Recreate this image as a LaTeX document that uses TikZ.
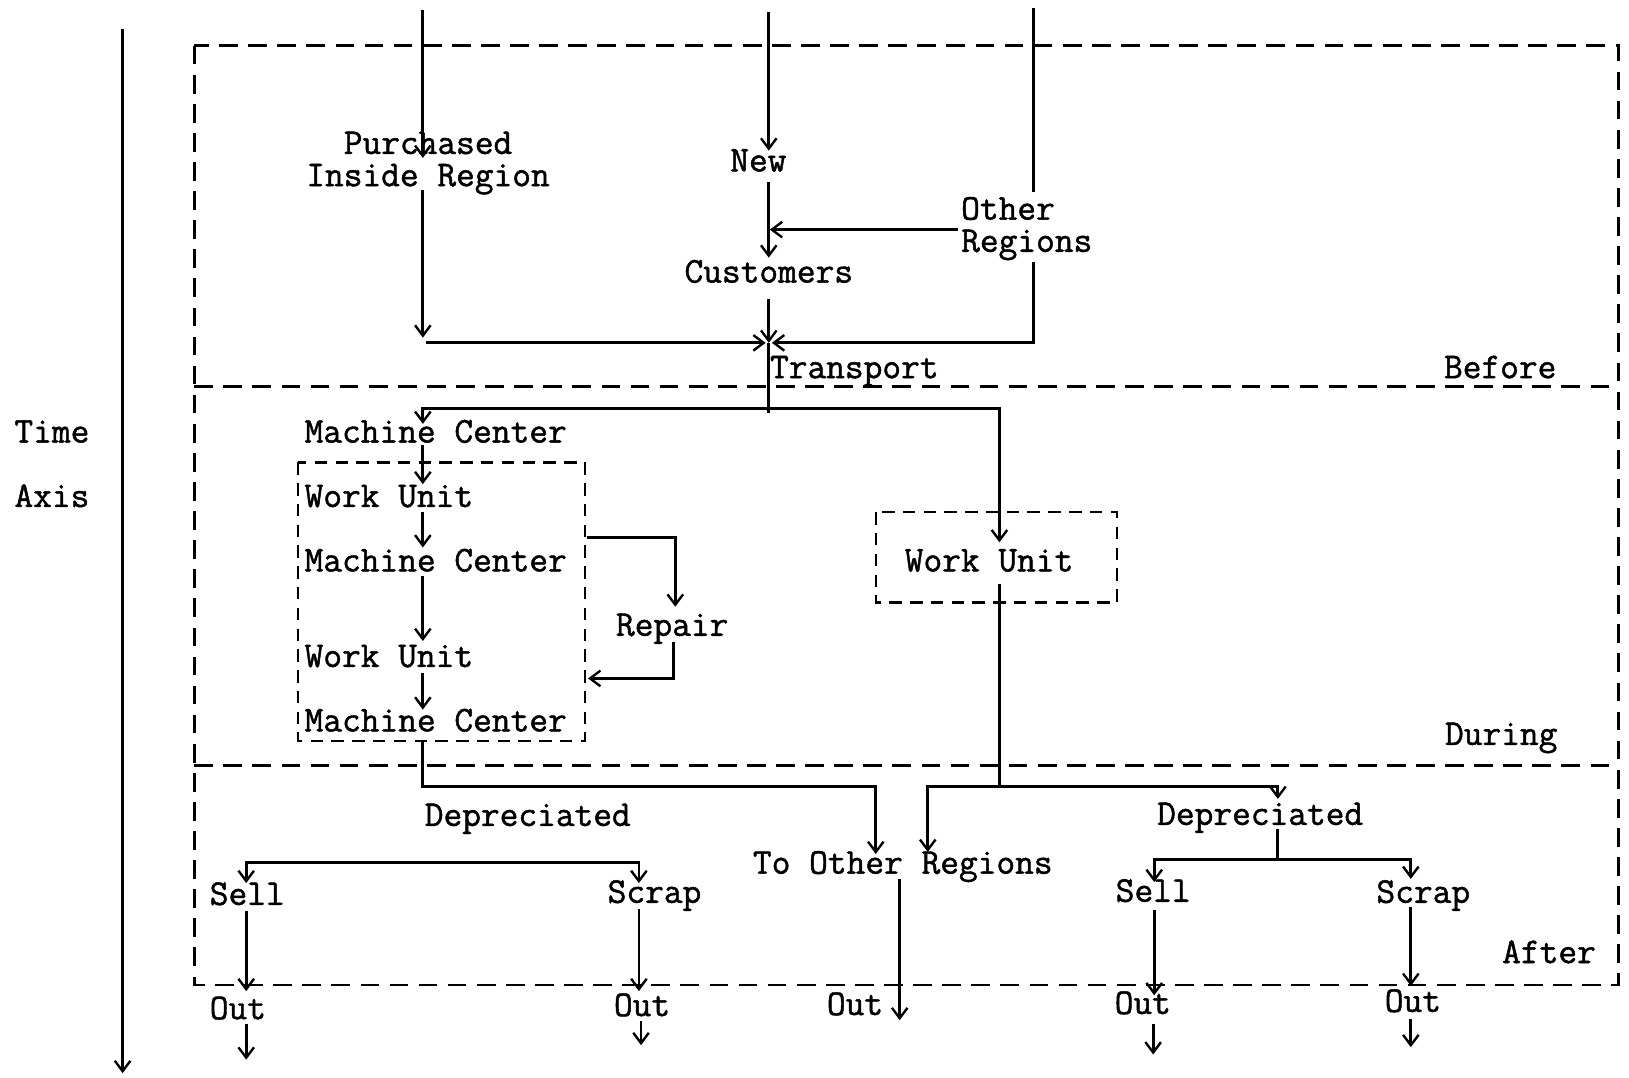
\documentclass[tikz,border=0pt]{standalone}
\usepackage{fontspec}
\newfontfamily\twfont{Latin Modern Mono}[FakeBold=1.3]
\usetikzlibrary{arrows.meta}
\tikzset{
  txt/.style={inner sep=0pt, font=\twfont\fontsize{35}{31}\selectfont},
  ln/.style={line width=2.7pt},
  arr/.style={ln, -{Straight Barb[length=10pt,width=15pt,line width=2.3pt]}},
  arrboth/.style={ln, {Straight Barb[length=10pt,width=15pt,line width=2.3pt]}-{Straight Barb[length=10pt,width=15pt,line width=2.3pt]}},
  dbox/.style={line width=2.4pt, dash pattern=on 18pt off 10pt},
  sbox/.style={line width=2.3pt, dash pattern=on 12pt off 8pt},
}
\begin{document}
\begin{tikzpicture}[x=1pt,y=-1pt]
\useasboundingbox (0,0) rectangle (1568,1037);

% ---------- frames ----------
\draw[dbox] (187,44) rectangle (1558,948);
\draw[dbox] (187,372) -- (1558,372);
\draw[dbox] (187,737) -- (1558,737);
\draw[sbox] (287,445) rectangle (563,713);
\draw[sbox] (843,493) rectangle (1075,580);

% ---------- time axis ----------
\coordinate (t0) at (118,28);
\coordinate (t1) at (118,1033);
\draw[arr, line width=3.2pt] (t0) -- (t1);
\node[txt, anchor=base] (time) at (50,426) {Time};
\node[txt, anchor=base] (axis) at (50,488) {Axis};

% ---------- texts ----------
\node[txt, align=center, anchor=center] (purch) at (412,157) {Purchased\\Inside Region};
\node[txt, anchor=base] (new) at (730,165) {New};
\node[txt, anchor=base] (cust) at (740,272) {Customers};
\node[txt, align=left, anchor=west] (other) at (925,220) {Other\\Regions};
\node[txt, anchor=base west] (transport) at (741,364) {Transport};
\node[txt, anchor=base] (before) at (1444,364) {Before};

\node[txt, anchor=base west] (mc1) at (293,426) {Machine Center};
\node[txt, anchor=base west] (wu1) at (293,488) {Work Unit};
\node[txt, anchor=base west] (mc2) at (293,550) {Machine Center};
\node[txt, anchor=base west] (wu2) at (293,642) {Work Unit};
\node[txt, anchor=base west] (mc3) at (293,704) {Machine Center};
\node[txt, anchor=base] (repair) at (647,612) {Repair};
\node[txt, anchor=base] (wur) at (952,550) {Work Unit};
\node[txt, anchor=base] (during) at (1445,717) {During};

\node[txt, anchor=base] (dep1) at (508,795) {Depreciated};
\node[txt, anchor=base] (tor) at (869,841) {To Other Regions};
\node[txt, anchor=base] (dep2) at (1213,794) {Depreciated};
\node[txt, anchor=base] (sell1) at (238,871) {Sell};
\node[txt, anchor=base] (scrap1) at (630,869) {Scrap};
\node[txt, anchor=base] (sell2) at (1110,868) {Sell};
\node[txt, anchor=base] (scrap2) at (1370,869) {Scrap};
\node[txt, anchor=base] (after) at (1491,927) {After};
\node[txt, anchor=base] (out1) at (229,981) {Out};
\node[txt, anchor=base] (out2) at (618,978) {Out};
\node[txt, anchor=base] (out3) at (823,977) {Out};
\node[txt, anchor=base] (out4) at (1100,976) {Out};
\node[txt, anchor=base] (out5) at (1360,974) {Out};

% ---------- junctions ----------
\coordinate (J) at (740,330);
\coordinate (T) at (740,393);
\coordinate (L1) at (407,757);
\coordinate (R1) at (962,757);
\coordinate (D2) at (1230,827);

% ---------- before ----------
\draw[arr] (407,10) -- (407,152);
\draw[arr] (407,183) -- (407,325);
\draw[arr] (410,330) -- (737,330);
\draw[arr] (740,12) -- (740,145);
\draw[arr] (740,175) -- (740,248);
\draw[arr] (922,221) -- (741,221);
\draw[arr] (740,288) -- (J);
\draw[ln] (995,8) -- (995,185);
\draw[arr] (995,252) -- (995,330) -- (743,330);
\draw[ln] (J) -- (740,398);
\draw[arr] (T) -- (407,393) -- (407,408);
\draw[arr] (T) -- (962,393) -- (962,522);

% ---------- during ----------
\draw[arr] (407,428) -- (407,466);
\draw[arr] (407,493) -- (407,527);
\draw[arr] (407,554) -- (407,617);
\draw[arr] (407,648) -- (407,683);
\draw[arr] (565,517) -- (650,517) -- (650,584);
\draw[arr] (648,618) -- (648,653) -- (566,653);
\draw[arr] (407,713) -- (L1) -- (843,757) -- (843,822);
\draw[ln] (962,562) -- (R1);
\draw[arr] (R1) -- (893,757) -- (893,820);
\draw[arr] (R1) -- (1230,757) -- (1230,769);

% ---------- after ----------
\draw[arrboth] (237,850) -- (237,830) -- (615,830) -- (615,850);
\draw[arr] (237,877) -- (237,954);
\draw[arr] (237,986) -- (237,1020);
\draw[arr] (615,875) -- (615,954);
\draw[arr] (617,983) -- (617,1006);
\draw[arr] (866,846) -- (866,982);
\draw[ln] (1230,798) -- (D2);
\draw[arrboth] (1111,849) -- (1111,827) -- (1358,827) -- (1358,846);
\draw[arr] (1111,876) -- (1111,958);
\draw[arr] (1110,986) -- (1110,1015);
\draw[arr] (1358,873) -- (1358,949);
\draw[arr] (1358,981) -- (1358,1008);
\end{tikzpicture}
\end{document}
